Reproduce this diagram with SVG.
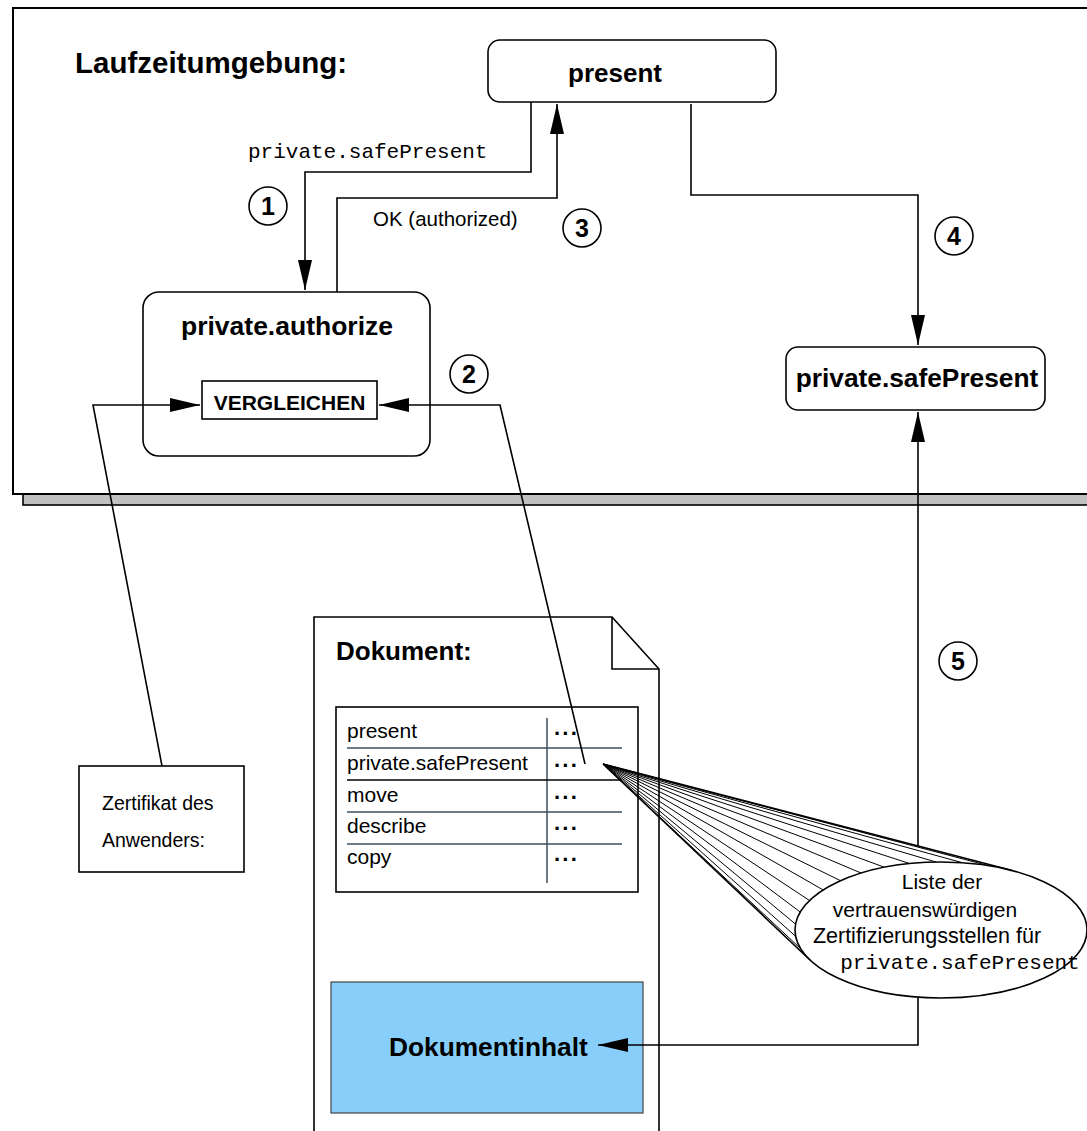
<svg xmlns="http://www.w3.org/2000/svg" width="1087" height="1131" viewBox="0 0 1087 1131">
<style>
text{font-family:"Liberation Sans",Arial,sans-serif;fill:#000}
.b{font-weight:bold}
.mono{font-family:"Liberation Mono","Courier New",monospace}
.box{fill:#fff;stroke:#000;stroke-width:1.6}
.ln{fill:none;stroke:#000;stroke-width:1.6}
.thin{fill:none;stroke:#000;stroke-width:1}
.sl{stroke:#3d4f5f;stroke-width:1.5}
.num{font-weight:bold;font-size:25px;text-anchor:middle}
.mid{text-anchor:middle}
</style>
<defs>
<marker id="ah" markerUnits="userSpaceOnUse" markerWidth="30" markerHeight="14" refX="30" refY="7" orient="auto">
<path d="M0,0 L30,7 L0,14 z" fill="#000"/>
</marker>
</defs>
<rect width="1087" height="1131" fill="#fff"/>
<g id="runtime">
<rect x="23" y="19" width="1100" height="486" fill="#c0c0c0" stroke="#000" stroke-width="1.6"/>
<rect x="13" y="8" width="1100" height="486" fill="#fff" stroke="#000" stroke-width="2"/>
<text x="75" y="73" class="b" font-size="29.5">Laufzeitumgebung:</text>
</g>
<g id="present">
<rect class="box" x="488" y="40" width="288" height="62" rx="12"/>
<text x="615" y="82" class="b mid" font-size="26">present</text>
</g>
<g id="authorize">
<rect class="box" x="143" y="292" width="287" height="164" rx="16"/>
<text x="287" y="335" class="b mid" font-size="26.5">private.authorize</text>
</g>
<g id="vergleichen">
<rect class="box" x="202" y="381" width="175" height="38"/>
<text x="289.5" y="410" class="b mid" font-size="21">VERGLEICHEN</text>
</g>
<g id="safePresent">
<rect class="box" x="786" y="347" width="259" height="63" rx="12"/>
<text x="917" y="387" class="b mid" font-size="26.3">private.safePresent</text>
</g>
<g id="zertifikat">
<rect class="box" x="79" y="766" width="165" height="106"/>
<text x="102" y="810" font-size="19.5">Zertifikat des</text>
<text x="102" y="847" font-size="19.5">Anwenders:</text>
</g>
<g id="dokument">
<path class="box" d="M314,1140 V617 H612 L659,669 V1140"/>
<path class="ln" d="M612,617 V669 H659"/>
<text x="336" y="660" class="b" font-size="26">Dokument:</text>
</g>
<g id="table">
<rect class="box" x="336" y="707" width="302" height="185"/>
<line class="sl" x1="547" y1="718" x2="547" y2="883"/>
<line class="sl" x1="347" y1="748" x2="622" y2="748"/>
<line x1="347" y1="780" x2="622" y2="780" stroke="#000" stroke-width="1.5"/>
<line class="sl" x1="347" y1="812" x2="622" y2="812"/>
<line class="sl" x1="347" y1="844" x2="622" y2="844"/>
<g font-size="21">
<text x="347" y="738">present</text>
<text x="347" y="770">private.safePresent</text>
<text x="347" y="802">move</text>
<text x="347" y="833">describe</text>
<text x="347" y="864">copy</text>
</g>
<g class="b" font-size="22" letter-spacing="1">
<text x="554" y="741" class="b">···</text>
<text x="554" y="773" class="b">···</text>
<text x="554" y="805" class="b">···</text>
<text x="554" y="836" class="b">···</text>
<text x="554" y="867" class="b">···</text>
</g>
</g>
<g id="inhalt">
<rect x="331" y="982" width="312" height="131" fill="#87cefa" stroke="#444" stroke-width="1.2"/>
<text x="389" y="1056" class="b" font-size="26.3">Dokumentinhalt</text>
</g>
<g id="callout">
<g class="thin">
<line x1="603" y1="764" x2="1012.2" y2="870.6" stroke-width="1.6"/>
<line x1="603" y1="764" x2="988.1" y2="865.6"/>
<line x1="603" y1="764" x2="962.4" y2="862.7"/>
<line x1="603" y1="764" x2="936" y2="862"/>
<line x1="603" y1="764" x2="909.8" y2="863.6"/>
<line x1="603" y1="764" x2="884.6" y2="867.3"/>
<line x1="603" y1="764" x2="861.2" y2="873.1"/>
<line x1="603" y1="764" x2="840.5" y2="880.7"/>
<line x1="603" y1="764" x2="823.1" y2="889.9"/>
<line x1="603" y1="764" x2="809.5" y2="900.5"/>
<line x1="603" y1="764" x2="800.2" y2="912"/>
<line x1="603" y1="764" x2="795.5" y2="924.1"/>
<line x1="603" y1="764" x2="795.7" y2="936.4"/>
<line x1="603" y1="764" x2="800.5" y2="948.5"/>
<line x1="603" y1="764" x2="810" y2="960" stroke-width="1.6"/>
</g>
<ellipse cx="941" cy="930" rx="146" ry="68" fill="#fff" stroke="#000" stroke-width="1.6"/>
<text x="942" y="889" class="mid" font-size="21">Liste der</text>
<text x="925" y="917" class="mid" font-size="21">vertrauenswürdigen</text>
<text x="927" y="943" class="mid" font-size="21.5">Zertifizierungsstellen für</text>
<text x="960" y="969" class="mono mid" font-size="21">private.safePresent</text>
</g>
<g id="connectors">
<path class="ln" d="M531,102 V172 H305 V290" marker-end="url(#ah)"/>
<path class="ln" d="M337,292 V198 H557 V104" marker-end="url(#ah)"/>
<path class="ln" d="M691,104 V195 H918 V345" marker-end="url(#ah)"/>
<path class="ln" d="M918,846 V412" marker-end="url(#ah)"/>
<path class="ln" d="M918,998 V1045 H598" marker-end="url(#ah)"/>
<path class="ln" d="M585,764 L500,405 H379" marker-end="url(#ah)"/>
<path class="ln" d="M162,766 L93,405 H200" marker-end="url(#ah)"/>
</g>
<g id="labels">
<text x="248" y="158" class="mono" font-size="21">private.safePresent</text>
<text x="373" y="226" font-size="20.5">OK (authorized)</text>
</g>
<g id="step1"><circle class="box" cx="268" cy="206" r="19"/><text x="268" y="215" class="num">1</text></g>
<g id="step2"><circle class="box" cx="469" cy="374" r="19"/><text x="469" y="383" class="num">2</text></g>
<g id="step3"><circle class="box" cx="582" cy="228" r="19"/><text x="582" y="237" class="num">3</text></g>
<g id="step4"><circle class="box" cx="954" cy="236" r="19"/><text x="954" y="245" class="num">4</text></g>
<g id="step5"><circle class="box" cx="958" cy="661" r="19"/><text x="958" y="670" class="num">5</text></g>
</svg>
